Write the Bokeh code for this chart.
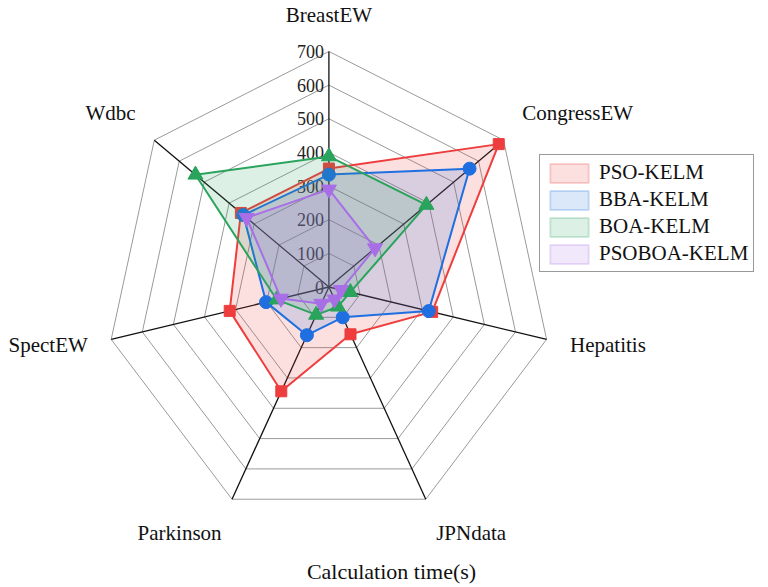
import numpy as np
from bokeh.plotting import figure
from bokeh.models import Range1d, Legend, LegendItem, Label
from bokeh.core.properties import value
from bokeh.embed import file_html
from bokeh.resources import INLINE

# ---------------- data ----------------
categories = ["BreastEW", "CongressEW", "Hepatitis", "JPNdata", "Parkinson", "SpectEW", "Wdbc"]
pso_kelm = [352, 681, 332, 156, 344, 319, 353]
bba_kelm = [334, 564, 321, 100, 159, 202, 343]
boa_kelm = [388, 391, 69, 65, 92, 168, 535]
psoboa_kelm = [290, 185, 39, 41, 55, 154, 330]
series_names = ["PSO-KELM", "BBA-KELM", "BOA-KELM", "PSOBOA-KELM"]
tick_values = [0, 100, 200, 300, 400, 500, 600, 700]
axis_max = 700
title_text = "Calculation time(s)"

# ---------------- styles ----------------
FONT_NAME = "Liberation Serif"
FONT = value(FONT_NAME)
colors = ["#ee3d3d", "#1f6fe0", "#2aa35c", "#a86ee6"]
markers = ["square", "circle", "triangle", "inverted_triangle"]
msizes = [11, 13, 15, 15]

W, H = 768, 587
cx_px, cy_px = 328.4, 286.5          # centre in figure pixels (from top-left)
sx, sy = 0.319, 0.3365               # px per data unit (x, y)

x0 = -cx_px / sx
y1 = cy_px / sy
p = figure(width=W, height=H, output_backend="svg", toolbar_location=None,
           x_range=Range1d(x0, x0 + W / sx), y_range=Range1d(y1 - H / sy, y1),
           x_axis_type=None, y_axis_type=None, min_border=0)
p.grid.visible = False
p.outline_line_color = None
p.background_fill_color = "white"

n = len(categories)
ang = np.pi / 2 - np.arange(n) * 2 * np.pi / n
cosv, sinv = np.cos(ang), np.sin(ang)

# grid heptagons
gx, gy = [], []
for lv in tick_values[1:]:
    gx.append(list(np.append(lv * cosv, lv * cosv[0])))
    gy.append(list(np.append(lv * sinv, lv * sinv[0])))
p.multi_line(gx, gy, line_color="#9a9a9a", line_width=1)

# spokes
p.segment(x0=[0] * n, y0=[0] * n, x1=list(axis_max * cosv), y1=list(axis_max * sinv),
          line_color="#111111", line_width=1.3)

# radial tick labels
p.text(x=[0] * len(tick_values), y=tick_values, text=[str(t) for t in tick_values],
       text_font=FONT, text_font_size="18px", text_color="#222222",
       text_align="right", text_baseline="middle", x_offset=-5)

# category labels
gap = 24
for i, name in enumerate(categories):
    c, s = cosv[i], sinv[i]
    align = "left" if c > 0.1 else ("right" if c < -0.1 else "center")
    base = "bottom" if s > 0.5 else ("top" if s < -0.5 else "middle")
    p.text(x=[axis_max * c], y=[axis_max * s], text=[name], text_font=FONT,
           text_font_size="21px", text_color="#111111", text_align=align,
           text_baseline=base, x_offset=gap * c, y_offset=-gap * s)

# series
all_series = [pso_kelm, bba_kelm, boa_kelm, psoboa_kelm]
legend_items = []
for vals, name, col, mk, ms in zip(all_series, series_names, colors, markers, msizes):
    v = np.array(vals, dtype=float)
    xs = v * cosv
    ys = v * sinv
    p.patch(list(xs), list(ys), fill_color=col, fill_alpha=0.16,
            line_color=col, line_width=2, line_join="round")
    p.scatter(list(xs), list(ys), marker=mk, size=ms, fill_color=col, line_color=col)
    dummy = p.quad(left=[np.nan], right=[np.nan], top=[np.nan], bottom=[np.nan],
                   fill_color=col, fill_alpha=0.16, line_color=col, line_alpha=0.22,
                   line_width=2)
    legend_items.append(LegendItem(label=name, renderers=[dummy]))

legend = Legend(items=legend_items, location=(539, 315),
                label_text_font=FONT_NAME, label_text_font_size="21px",
                label_text_color="#111111",
                glyph_width=48, glyph_height=24, label_standoff=6,
                spacing=2, padding=5, margin=0,
                border_line_color="#333333", border_line_width=1,
                background_fill_color="white", background_fill_alpha=1)
p.add_layout(legend, "center")

p.add_layout(Label(x=391, y=16, x_units="screen", y_units="screen", text=title_text,
                   text_font=FONT_NAME, text_font_size="22px", text_color="#111111",
                   text_align="center", text_baseline="middle"))

open("out.html", "w").write(file_html(p, INLINE))
